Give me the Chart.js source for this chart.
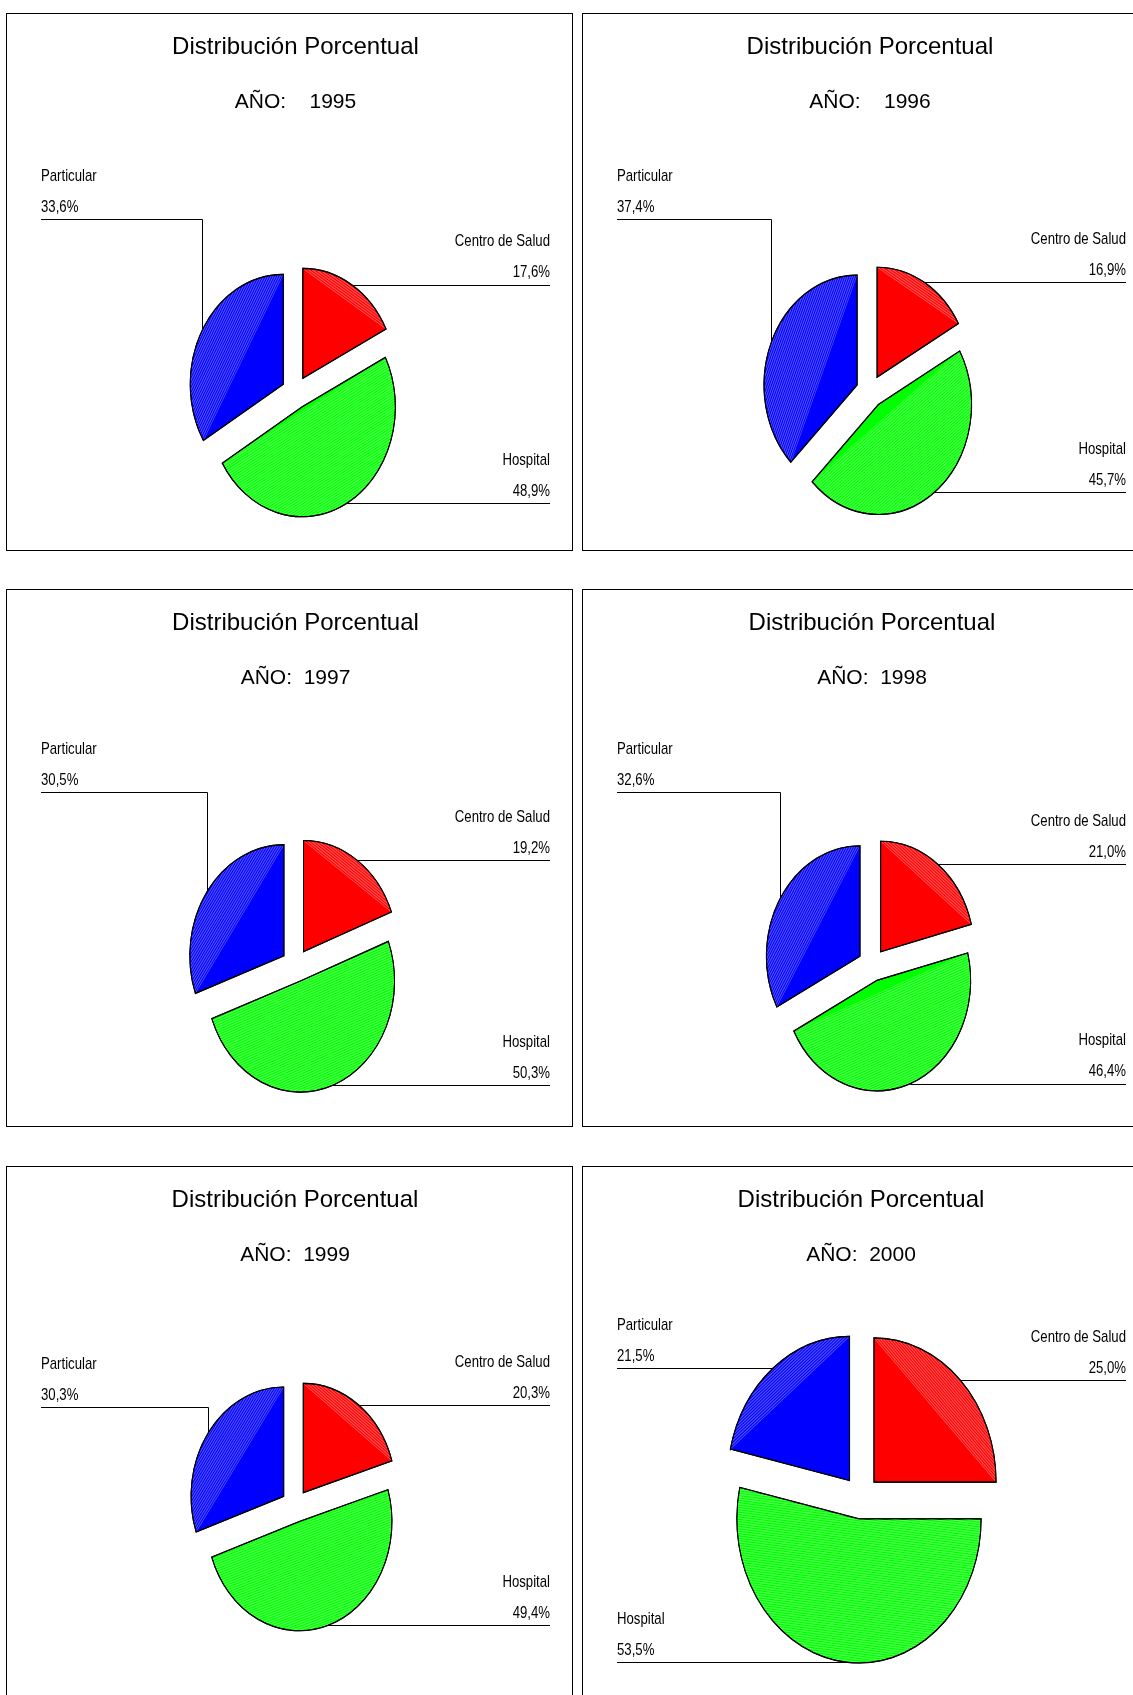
<!DOCTYPE html>
<html lang="es">
<head>
<meta charset="utf-8">
<title>Distribución Porcentual 1995-2000</title>
<script src="https://cdn.jsdelivr.net/npm/chart.js@4.4.1/dist/chart.umd.min.js"></script>
<style>
  html, body { margin: 0; padding: 0; background: #fff; overflow: hidden; }
  body { position: relative; width: 1133px; height: 1695px; }
  .panel { position: absolute; width: 567px; height: 538px; box-sizing: border-box; border: 1px solid #000; background: #fff; }
  .panel canvas { display: block; }
</style>
</head>
<body>
<div class="panel" style="left:6px; top:13px;"><canvas id="pie0" width="565" height="536"></canvas></div>
<div class="panel" style="left:582px; top:13px;"><canvas id="pie1" width="565" height="536"></canvas></div>
<div class="panel" style="left:6px; top:589px;"><canvas id="pie2" width="565" height="536"></canvas></div>
<div class="panel" style="left:582px; top:589px;"><canvas id="pie3" width="565" height="536"></canvas></div>
<div class="panel" style="left:6px; top:1166px;"><canvas id="pie4" width="565" height="536"></canvas></div>
<div class="panel" style="left:582px; top:1166px;"><canvas id="pie5" width="565" height="536"></canvas></div>
<script>
'use strict';

const categories = ['Centro de Salud', 'Hospital', 'Particular'];
const years = [1995, 1996, 1997, 1998, 1999, 2000];
const yearTitles = ['AÑO:    1995', 'AÑO:    1996', 'AÑO:  1997', 'AÑO:  1998', 'AÑO:  1999', 'AÑO:  2000'];
const centroDeSalud = [17.6, 16.9, 19.2, 21.0, 20.3, 25.0];
const hospital = [48.9, 45.7, 50.3, 46.4, 49.4, 53.5];
const particular = [33.6, 37.4, 30.5, 32.6, 30.3, 21.5];

const sliceColors = ['#ff0000', '#00ff00', '#0000ff'];
const hatchColors = ['#ff5555', '#55ff55', '#5555ff'];

// the old report did not place every pie alike, so each frame gets its own padding
const frames = [
  { left: 40, right: 28, gap: 181, bottom: 64, labelRow: 205 },
  { left: 38, right: 29, gap: 180, bottom: 65, labelRow: 205 },
  { left: 40, right: 28, gap: 177, bottom: 66, labelRow: 202 },
  { left: 41, right: 28, gap: 177, bottom: 67, labelRow: 202 },
  { left: 40, right: 29, gap: 142, bottom: 104, labelRow: 240 },
  { left: 28, right: 37, gap: 104, bottom: 83, labelRow: 205 }
];

const STRETCH = 1.18;   // pies were printed taller than wide
const EXPLODE = 0.15;   // slice pull-out, share of the radius
const LABEL_LEFT = 34;
const LABEL_RIGHT = 543;
const LABEL_SQUEEZE = 0.775;  // labels were set in a narrow face

const family = '"Liberation Sans", Arial, sans-serif';

function formatPct(v) {
  return v.toFixed(1).replace('.', ',') + '%';
}

function squeezedText(ctx, text, x, y, align) {
  ctx.save();
  ctx.translate(x, y);
  ctx.scale(LABEL_SQUEEZE, 1);
  ctx.textAlign = align;
  ctx.fillText(text, 0, 0);
  ctx.restore();
}

function hatchSlice(ctx, arc, color) {
  const { x, y, startAngle, endAngle, outerRadius: r } = arc;
  const mid = (startAngle + endAngle) / 2;
  const half = (endAngle - startAngle) / 2;
  const nx = Math.cos(mid), ny = Math.sin(mid);
  const tx = -ny, ty = nx;

  ctx.save();
  // only the part between the chord and the rim, and never outside the slice
  ctx.beginPath();
  ctx.moveTo(x, y);
  ctx.arc(x, y, r - 0.5, startAngle, endAngle);
  ctx.closePath();
  ctx.clip();
  ctx.beginPath();
  ctx.arc(x, y, r - 0.5, startAngle, endAngle);
  ctx.closePath();
  ctx.clip();
  ctx.strokeStyle = color;
  ctx.lineWidth = 1;
  for (let d = r * Math.cos(half); d <= r; d += 2) {
    const px = x + nx * d, py = y + ny * d;
    ctx.beginPath();
    ctx.moveTo(px - tx * r * 2, py - ty * r * 2);
    ctx.lineTo(px + tx * r * 2, py + ty * r * 2);
    ctx.stroke();
  }
  ctx.restore();

  // outline again on top of the hatching
  ctx.beginPath();
  ctx.moveTo(x, y);
  ctx.arc(x, y, r, startAngle, endAngle);
  ctx.closePath();
  ctx.lineJoin = 'miter';
  ctx.strokeStyle = '#000';
  ctx.lineWidth = 1;
  ctx.stroke();
}

const slicedPie = {
  id: 'slicedPie',
  beforeDatasetsDraw(chart) {
    const ctx = chart.ctx;
    const arcs = chart.getDatasetMeta(0).data;
    const cx = arcs[0].x, cy = arcs[0].y;
    ctx.save();
    ctx.translate(cx, cy);
    ctx.scale(1, STRETCH);
    ctx.translate(-cx, -cy);
    arcs.forEach((arc, i) => {
      const mid = (arc.startAngle + arc.endAngle) / 2;
      const pull = arc.outerRadius * EXPLODE;
      ctx.save();
      ctx.translate(Math.cos(mid) * pull, Math.sin(mid) * pull);
      arc.draw(ctx);
      hatchSlice(ctx, arc, hatchColors[i]);
      ctx.restore();
    });
    ctx.restore();
    return false;
  },
  afterDraw(chart, args, opts) {
    const ctx = chart.ctx;
    const arcs = chart.getDatasetMeta(0).data;
    const values = chart.data.datasets[0].data;
    ctx.save();
    ctx.font = '17px ' + family;
    ctx.fillStyle = '#000';
    ctx.strokeStyle = '#000';
    ctx.lineWidth = 1;
    ctx.textBaseline = 'middle';
    arcs.forEach((arc, i) => {
      const mid = (arc.startAngle + arc.endAngle) / 2;
      const reach = arc.outerRadius * (1 + EXPLODE);
      const ax = arc.x + Math.cos(mid) * reach;
      const ay = arc.y + Math.sin(mid) * reach * STRETCH;
      const leftSide = ax < arc.x;
      let lineY = ay;
      if (leftSide && ay < arc.y) lineY = Math.min(ay, opts.labelRow);
      const y = Math.round(lineY) + 0.5;
      const ex = Math.round(ax) + 0.5;
      const textX = leftSide ? LABEL_LEFT : LABEL_RIGHT;
      const align = leftSide ? 'left' : 'right';
      ctx.beginPath();
      if (leftSide) {
        ctx.moveTo(LABEL_LEFT, y);
        ctx.lineTo(ex, y);
        ctx.lineTo(ex, ay);
      } else {
        ctx.moveTo(ax, y);
        ctx.lineTo(LABEL_RIGHT, y);
      }
      ctx.stroke();
      squeezedText(ctx, chart.data.labels[i], textX, lineY - 43, align);
      squeezedText(ctx, formatPct(values[i]), textX, lineY - 12, align);
    });
    ctx.restore();
  }
};

years.forEach((year, i) => {
  const frame = frames[i];
  new Chart(document.getElementById('pie' + i), {
    type: 'pie',
    data: {
      labels: categories,
      datasets: [{
        data: [centroDeSalud[i], hospital[i], particular[i]],
        backgroundColor: sliceColors,
        borderColor: '#000',
        borderWidth: 1,
        borderJoinStyle: 'miter'
      }]
    },
    options: {
      responsive: false,
      animation: false,
      events: [],
      layout: {
        padding: { left: frame.left, right: frame.right, top: 0, bottom: frame.bottom }
      },
      plugins: {
        legend: { display: false },
        tooltip: { enabled: false },
        title: {
          display: true,
          text: 'Distribución Porcentual',
          color: '#000',
          font: { family: family, size: 24, weight: 'normal', lineHeight: '34px' },
          padding: { top: 16.6, bottom: 0 }
        },
        subtitle: {
          display: true,
          text: yearTitles[i],
          color: '#000',
          font: { family: family, size: 21, weight: 'normal', lineHeight: '30px' },
          padding: { top: 23.1, bottom: frame.gap }
        },
        slicedPie: { labelRow: frame.labelRow }
      }
    },
    plugins: [slicedPie]
  });
});
</script>
</body>
</html>
